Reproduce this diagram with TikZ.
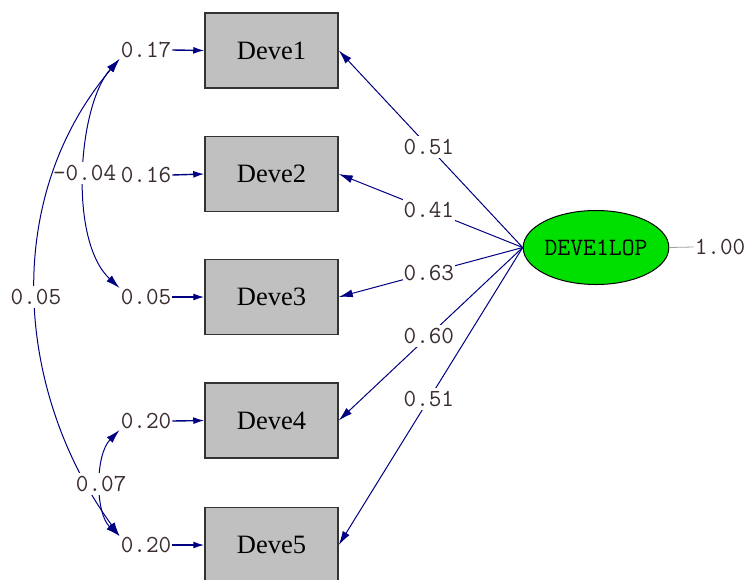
\documentclass[tikz,border=0pt]{standalone}
\usepackage{fontspec}
\setmainfont{Liberation Serif}
\usetikzlibrary{arrows.meta,shapes.geometric}
\definecolor{pathblue}{HTML}{000080}
\definecolor{boxgray}{HTML}{C0C0C0}
\definecolor{latgreen}{HTML}{00E000}
\definecolor{numink}{HTML}{3A2C30}
\definecolor{fixgray}{HTML}{A0A0A0}

\begin{document}
\begin{tikzpicture}[x=1pt, y=-1pt, >={Latex[length=14pt,width=8pt]},
    obs/.style={draw=black!80, line width=1.5pt, fill=boxgray, minimum width=133pt,
      minimum height=75pt, inner sep=0pt, font=\fontsize{26.5}{30}\selectfont},
    lat/.style={ellipse, draw=black, line width=1pt, fill=latgreen, minimum width=132pt,
      minimum height=74pt, inner sep=0pt, font=\ttfamily\fontsize{25}{28}\selectfont},
    num/.style={text=numink, inner sep=1pt, font=\ttfamily\fontsize{24.5}{27}\selectfont},
    gapnum/.style={num, fill=white, inner xsep=1pt, inner ysep=3pt},
    load/.style={pathblue, line width=1pt, ->},
    errarr/.style={pathblue, line width=1.4pt, -{Latex[length=11pt,width=7pt]}},
    cov/.style={pathblue, line width=1pt, <->}]
  \useasboundingbox (0,0) rectangle (749,579);

  % observed indicators
  \node[obs] (dv1) at (271.5,50.5) {Deve1};
  \node[obs] (dv2) at (271.5,174) {Deve2};
  \node[obs] (dv3) at (271.5,297) {Deve3};
  \node[obs] (dv4) at (271.5,420.5) {Deve4};
  \node[obs] (dv5) at (271.5,545) {Deve5};

  % latent factor and its fixed variance
  \node[lat] (lv) at (596,247.5) {DEVE1LOP};
  \node[num] (lvvar) at (720,247) {1.00};
  \draw[fixgray, line width=0.8pt] (lv.east) -- (lvvar.west);

  % loadings
  \draw[load] (lv.west) -- node[gapnum, pos=0.51] {0.51} (dv1.east);
  \draw[load] (lv.west) -- node[gapnum, pos=0.51] {0.41} (dv2.east);
  \draw[load] (lv.west) -- node[gapnum, pos=0.51] {0.63} (dv3.east);
  \draw[load] (lv.west) -- node[gapnum, pos=0.51] {0.60} (dv4.east);
  \draw[load] (lv.west) -- node[gapnum, pos=0.51] {0.51} (dv5.east);

  % error variances
  \node[num] (e1) at (146,50) {0.17};
  \node[num] (e2) at (146,175) {0.16};
  \node[num] (e3) at (146,297) {0.05};
  \node[num] (e4) at (146,421) {0.20};
  \node[num] (e5) at (146,545) {0.20};
  \foreach \i in {1,...,5}
    \draw[errarr] (e\i.east) -- (dv\i.west);

  % error covariances
  \draw[cov] (e1.south west) .. controls (78,105) and (68,240) ..
    node[gapnum, pos=0.5] {-0.04} (e3.north west);
  \draw[cov] (e1.south west) .. controls (0,200) and (16,393) ..
    node[gapnum, pos=0.5] {0.05} (e5.north west);
  \draw[cov] (e4.south west) .. controls (95,455) and (95,513) ..
    node[gapnum, pos=0.5] {0.07} (e5.north west);
\end{tikzpicture}
\end{document}
